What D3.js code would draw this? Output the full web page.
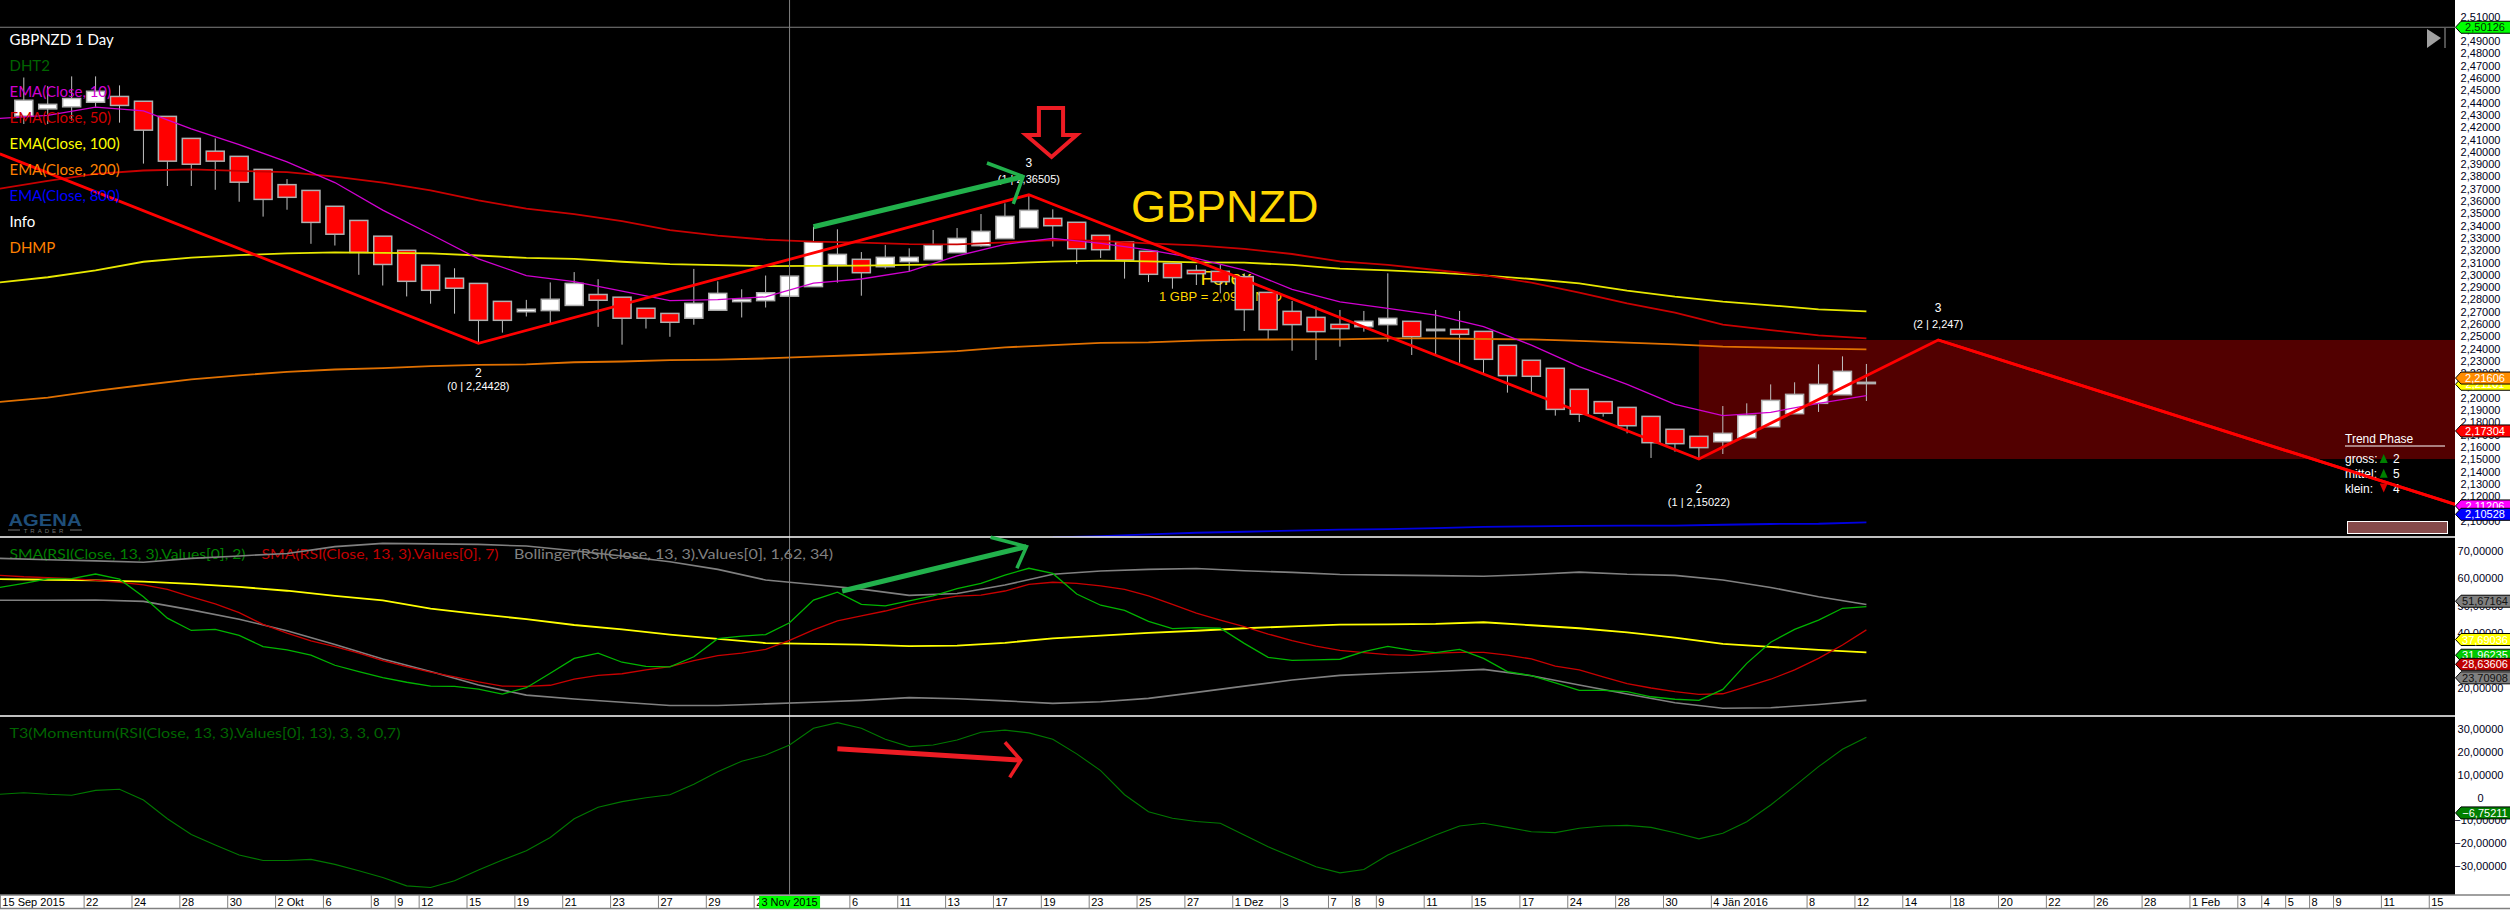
<!doctype html>
<html lang="en">
    <head>
        <meta charset="utf-8">
        <title>GBPNZD 1 Day</title>
        <script type="text/javascript" src="https://cdnjs.cloudflare.com/ajax/libs/d3/7.8.5/d3.min.js"></script>
        <style>
            body { margin: 0; background: #000; }
            svg { display: block; }
            text { font-family: "Liberation Sans", Arial, sans-serif; }
            .legend text { font-family: "Lato", sans-serif; }
        </style>
    </head>

    <body>
        <div id="chart"></div>
        <script>
            // candles, one per bar, slot 0 is the first bar
            var opens = [2.4291,2.4349,2.4366,2.4403,2.4450,2.4411,2.4288,2.4109,2.4005,2.3963,2.3857,2.3733,2.3686,2.3557,2.3442,2.3314,2.3199,2.3078,2.2972,2.2930,2.2784,2.2700,2.2709,2.2751,2.2840,2.2818,2.2728,2.2686,2.2647,2.2712,2.2782,2.2790,2.2826,2.2904,2.3080,2.3126,2.3066,2.3107,2.3123,2.3180,2.3237,2.3294,2.3383,2.3459,2.3427,2.3321,2.3267,2.3191,2.3093,2.3036,2.3028,2.2985,2.2857,2.2703,2.2654,2.2597,2.2578,2.2595,2.2622,2.2546,2.2557,2.2540,2.2427,2.2305,2.2240,2.2069,2.1969,2.1922,2.1849,2.1744,2.1687,2.1643,2.1676,2.1765,2.1871,2.1955,2.2025,2.2115];
            var highs = [2.4604,2.4534,2.4613,2.4613,2.4540,2.4411,2.4288,2.4109,2.4109,2.3963,2.3857,2.3778,2.3686,2.3557,2.3442,2.3314,2.3199,2.3078,2.3053,2.2930,2.2784,2.2796,2.2938,2.3022,2.2964,2.2818,2.2728,2.2686,2.3048,2.2947,2.2882,2.2994,2.2994,2.3391,2.3370,2.3185,2.3242,2.3215,2.3364,2.3380,2.3494,2.3581,2.36505,2.3532,2.3427,2.3321,2.3267,2.3191,2.3093,2.3080,2.3080,2.3012,2.2857,2.2787,2.2741,2.2714,2.2706,2.3012,2.2622,2.2714,2.2706,2.2540,2.2427,2.2305,2.2240,2.2069,2.1969,2.1922,2.1849,2.1744,2.1687,2.1933,2.1955,2.2109,2.2126,2.2272,2.2337,2.2275];
            var lows = [2.4226,2.4226,2.4254,2.4366,2.4237,2.3904,2.3722,2.3722,2.3691,2.3594,2.3473,2.3529,2.3252,2.3238,2.3000,2.2913,2.2824,2.2765,2.2684,2.2443,2.2530,2.2661,2.2608,2.2751,2.2577,2.2432,2.2563,2.2496,2.2594,2.2712,2.2653,2.2734,2.2826,2.2904,2.2936,2.2830,2.3050,2.3028,2.3123,2.3180,2.3229,2.3294,2.3383,2.3229,2.3088,2.3137,2.2969,2.2941,2.2887,2.2917,2.2849,2.2543,2.2475,2.2383,2.2307,2.2416,2.2538,2.2456,2.2348,2.2348,2.2286,2.2185,2.2042,2.2036,2.1855,2.1803,2.1847,2.1711,2.1511,2.1562,2.15022,2.1543,2.1676,2.1765,2.1871,2.1885,2.2025,2.1974];
            var closes = [2.4419,2.4386,2.4433,2.4492,2.4377,2.4176,2.3924,2.3899,2.3924,2.3753,2.3613,2.3630,2.3426,2.3330,2.3182,2.3084,2.2947,2.2874,2.2891,2.2630,2.2630,2.2720,2.2801,2.2930,2.2793,2.2647,2.2647,2.2614,2.2768,2.2849,2.2801,2.2854,2.2989,2.3267,2.3166,2.3017,2.3142,2.3142,2.3240,2.3296,2.3353,2.3475,2.3524,2.3399,2.3212,2.3204,2.3120,2.3004,2.2977,2.3009,2.2944,2.2717,2.2554,2.2595,2.2538,2.2562,2.2622,2.2646,2.2497,2.2557,2.2516,2.2313,2.2180,2.2175,2.1906,2.1866,2.1874,2.1773,2.1635,2.1627,2.1595,2.1711,2.1857,2.1979,2.2028,2.2109,2.2215,2.2126];

            // moving averages, read at every second slot from -1 to 77
            var oddSlots = d3.range(-1, 78, 2);
            var ema10 = [2.4271,2.4296,2.4363,2.4333,2.4187,2.4058,2.3918,2.3750,2.3526,2.3330,2.3129,2.2994,2.2944,2.2868,2.2790,2.2798,2.2821,2.2933,2.2966,2.3028,2.3153,2.3248,2.3296,2.3256,2.3202,2.3134,2.3039,2.2882,2.2779,2.2727,2.2673,2.2578,2.2429,2.2253,2.2109,2.1947,2.1855,2.1882,2.1955,2.2017];
            var ema50 = [2.3700,2.3764,2.3820,2.3848,2.3857,2.3845,2.3834,2.3798,2.3750,2.3686,2.3605,2.3538,2.3493,2.3437,2.3364,2.3319,2.3286,2.3269,2.3261,2.3250,2.3248,2.3264,2.3283,2.3275,2.3256,2.3240,2.3210,2.3169,2.3109,2.3080,2.3039,2.2998,2.2936,2.2855,2.2768,2.2692,2.2595,2.2551,2.2508,2.2483];
            var ema100 = [2.2938,2.2980,2.3036,2.3106,2.3140,2.3160,2.3174,2.3182,2.3179,2.3174,2.3157,2.3137,2.3129,2.3106,2.3087,2.3078,2.3070,2.3073,2.3074,2.3080,2.3085,2.3093,2.3107,2.3115,2.3109,2.3101,2.3099,2.3080,2.3050,2.3036,2.3017,2.2996,2.2966,2.2931,2.2871,2.2822,2.2782,2.2752,2.2719,2.2703];
            var ema200 = [2.1967,2.2001,2.2057,2.2104,2.2149,2.2183,2.2211,2.2230,2.2241,2.2258,2.2267,2.2272,2.2289,2.2295,2.2306,2.2311,2.2320,2.2334,2.2348,2.2362,2.2380,2.2410,2.2429,2.2446,2.2451,2.2465,2.2473,2.2475,2.2475,2.2483,2.2483,2.2478,2.2475,2.2462,2.2448,2.2435,2.2416,2.2408,2.2399,2.2394];
            var ema800Slots = d3.range(43, 78, 2);
            var ema800 = [2.0866,2.0876,2.0890,2.0903,2.0911,2.0920,2.0928,2.0933,2.0941,2.0950,2.0955,2.0958,2.0960,2.0960,2.0968,2.0974,2.0976,2.0988];

            // zigzag
            var zigSlots = [-1, 19, 42, 70, 80, 101.6];
            var zigPrices = [2.3983, 2.24428, 2.36505, 2.15022, 2.247, 2.1134];
            var zigLabels = [
                {slot: 19, price: 2.24428, top: "2", sub: "(0 | 2,24428)", above: false},
                {slot: 42, price: 2.36505, top: "3", sub: "(1 | 2,36505)", above: true},
                {slot: 70, price: 2.15022, top: "2", sub: "(1 | 2,15022)", above: false},
                {slot: 80, price: 2.247, top: "3", sub: "(2 | 2,247)", above: true}
            ];

            // rsi panel, one value per slot from -1 to 77
            var allSlots = d3.range(-1, 78);
            var rsiSma2 = [56.7,58.2,59.8,59.9,61.6,59.7,53.3,45.5,41.0,41.4,39.2,35.1,33.9,32.0,28.3,26.0,23.8,22.1,20.7,20.6,19.6,17.8,20.1,25.4,30.8,32.7,29.4,27.9,27.7,31.4,38.0,38.9,39.5,43.8,52.1,55.0,50.5,50.0,51.8,53.6,56.3,58.2,61.2,63.7,61.8,54.3,50.2,48.3,44.3,41.7,42.0,41.8,36.3,31.2,30.1,30.3,30.5,33.3,35.2,33.7,32.9,34.1,30.8,26.0,24.5,21.9,19.1,19.1,18.7,16.8,15.9,15.5,19.5,29.0,36.7,41.4,44.8,49.1,49.7];
            var rsiSma7 = [61.1,60.6,60.3,59.9,59.3,58.6,57.6,56.0,53.3,50.7,47.5,43.2,40.0,37.2,35.1,32.7,30.0,27.8,25.8,24.1,22.2,20.7,20.6,21.0,23.2,24.6,25.2,26.6,27.8,30.0,31.8,32.7,34.1,37.4,41.2,44.5,46.3,48.1,50.3,52.1,53.5,53.9,55.4,57.8,58.6,58.2,57.3,56.0,53.6,50.5,47.3,44.8,42.4,39.7,37.3,35.3,33.7,32.9,32.2,31.9,32.7,33.0,33.0,32.0,30.6,28.0,26.6,24.1,21.6,20.0,18.7,17.7,17.9,20.5,23.2,26.6,30.8,35.7,41.2];
            var bbMiddle = [59.7,59.5,59.3,58.8,58.0,56.9,55.5,53.6,52.0,49.0,47.0,45.1,43.0,41.4,39.5,37.9,36.4,36.1,35.8,35.3,35.5,36.5,38.1,39.1,40.1,40.9,41.8,42.5,43.1,43.2,43.4,44.0,42.9,41.8,40.3,38.4,36.1,35.0,33.9,33.0];
            var bbUpper = [67.3,66.8,66.4,65.9,67.3,68.2,69.1,71.6,72.8,72.6,72.4,71.8,70.1,68.2,66.1,63.3,59.4,57.8,56.1,53.8,54.5,57.6,61.5,62.7,63.3,63.6,62.8,62.2,61.4,61.2,61.0,60.8,61.4,62.3,61.5,61.1,59.4,56.7,53.3,50.5];
            var bbLower = [52.0,52.0,52.1,51.6,48.5,45.1,40.9,35.9,30.6,26.0,21.1,17.4,16.0,14.8,13.6,13.6,14.2,14.8,15.5,16.5,16.1,15.3,14.4,15.0,16.2,18.4,20.7,22.9,24.6,25.4,26.0,26.8,24.5,21.1,17.8,14.6,12.6,12.8,14.0,15.5];

            // momentum panel
            var t3Momentum = [1.4,2.1,1.4,1.0,3.1,3.6,-1.1,-9.3,-16.2,-20.8,-25.2,-27.6,-27.6,-27.1,-29.3,-32.1,-35.0,-38.7,-39.4,-36.5,-31.8,-27.4,-23.3,-17.5,-9.3,-4.3,-1.8,-0.1,1.2,5.8,11.3,15.9,18.6,23.0,30.3,32.8,30.3,25.5,22.3,23.0,25.2,28.6,29.5,28.3,25.5,19.1,11.8,1.2,-6.2,-9.1,-10.5,-11.3,-16.4,-21.6,-25.9,-30.3,-33.0,-31.5,-25.2,-20.8,-16.4,-12.5,-11.3,-13.1,-15.0,-15.4,-13.5,-12.5,-12.2,-13.1,-15.4,-18.1,-15.7,-10.6,-3.3,5.0,13.5,21.1,26.4];

            // axis ticks
            var priceTicks = d3.range(210, 252).map(function (d) { return d / 100; });
            var rsiTicks = [70, 60, 50, 40, 30, 20];
            var momTicks = [30, 20, 10, 0, -10, -20, -30];
            var timeSlots = [-0.5,3,5,7,9,11,13,15,16,17,19,21,23,25,27,29,31,35,37,39,41,43,45,47,49,51,53,55,56,57,59,61,63,65,67,69,71,75,77,79,81,83,85,87,89,91,93,94,95,96,97,99,101];
            var timeLabels = ["15 Sep 2015","22","24","28","30","2 Okt","6","8","9","12","15","19","21","23","27","29","2","6","11","13","17","19","23","25","27","1 Dez","3","7","8","9","11","15","17","24","28","30","4 Jän 2016","8","12","14","18","20","22","26","28","1 Feb","3","4","5","8","9","11","15"];
            var crossSlot = 32, crossLabel = "3 Nov 2015";

            // last value markers
            var priceTags = [
                {v: 2.50126, fill: "#00ff00", text: "#003000"},
                {v: 2.21101, fill: "#ffff00", text: "#ffffff"},
                {v: 2.21606, fill: "#ff8c00", text: "#ffffff"},
                {v: 2.17304, fill: "#ff0000", text: "#ffffff"},
                {v: 2.11206, fill: "#ff00ff", text: "#ffffff"},
                {v: 2.10528, fill: "#0000ff", text: "#ffffff"}
            ];
            var rsiTags = [
                {v: 51.67164, fill: "#808080", text: "#111111"},
                {v: 37.69036, fill: "#ffff00", text: "#ffffff"},
                {v: 31.96235, fill: "#00c800", text: "#ffffff"},
                {v: 28.63606, fill: "#c00000", text: "#ffffff"},
                {v: 23.70908, fill: "#808080", text: "#111111"}
            ];
            var momTags = [{v: -6.75211, fill: "#008000", text: "#ffffff"}];

            var priceLegend = ["GBPNZD 1 Day", "DHT2", "EMA(Close, 10)", "EMA(Close, 50)", "EMA(Close, 100)", "EMA(Close, 200)", "EMA(Close, 800)", "Info", "DHMP"];
            var priceLegendColors = ["#ffffff", "#006400", "#d000d0", "#d00000", "#ffff00", "#ff8000", "#0000ff", "#ffffff", "#ff8000"];

            // hand drawn arrows, [slot, value]
            var greenArrow1 = [[33.0, 2.3391], [41.76, 2.3798]];
            var greenHead1 = [[40.25, 2.3909], [41.76, 2.3798], [41.35, 2.3576]];
            var greenArrow2 = [[34.2, 55.4], [41.9, 71.6]];
            var greenHead2 = [[40.4, 75.0], [41.9, 71.6], [41.5, 63.7]];
            var redArrow = [[34.0, 21.3], [41.66, 16.4]];
            var redHead = [[41.0, 24.2], [41.66, 16.4], [41.2, 8.8]];
            var sellArrow = [[42.42, 2.4356], [43.43, 2.4356], [43.43, 2.4137], [44.0, 2.4137], [42.95, 2.3958], [41.88, 2.4137], [42.42, 2.4137]];

            var width = 2510, height = 910, plotRight = 2455;
            var panel1Bottom = 537, panel2Bottom = 716, panel3Bottom = 895;

            var x = d3.scaleLinear().domain([0, 77]).range([23.8, 1866.4]);
            var yPrice = d3.scaleLinear().domain([2.51, 2.10]).range([16.5, 520.8]);
            var yRsi = d3.scaleLinear().domain([70, 20]).range([551, 688]);
            var yMom = d3.scaleLinear().domain([30, -30]).range([729, 866]);

            var comma = d3.formatLocale({decimal: ",", thousands: ".", grouping: [3], currency: ["", ""]});
            var fmt5 = comma.format(".5f");
            var fmtPanel = function (d) { return d === 0 ? "0" : fmt5(d); };

            var svg = d3.select("#chart").append("svg").attr("width", width).attr("height", height);
            svg.append("rect").attr("width", width).attr("height", height).attr("fill", "#000");

            var defs = svg.append("defs");
            defs.append("clipPath").attr("id", "clip1").append("rect").attr("width", plotRight).attr("height", panel1Bottom);

            var main = svg.append("g").attr("clip-path", "url(#clip1)");

            // target zone behind the candles
            main.append("rect")
                .attr("x", x(70)).attr("y", yPrice(2.247))
                .attr("width", plotRight - x(70)).attr("height", yPrice(2.15022) - yPrice(2.247))
                .attr("fill", "#520000");

            // legend
            var legend = svg.append("g").attr("class", "legend");
            legend.selectAll("text.p").data(priceLegend).enter().append("text").attr("class", "p")
                .attr("x", 9.5).attr("y", function (d, i) { return 45 + i * 26; })
                .attr("font-size", 15)
                .attr("fill", function (d, i) { return priceLegendColors[i]; })
                .text(function (d) { return d; });
            legend.append("text").attr("x", 9.5).attr("y", 559).attr("font-size", 14).attr("fill", "#008000").attr("textLength", 236).attr("lengthAdjust", "spacingAndGlyphs").text("SMA(RSI(Close, 13, 3).Values[0], 2)");
            legend.append("text").attr("x", 261.5).attr("y", 559).attr("font-size", 14).attr("fill", "#c00000").attr("textLength", 237).attr("lengthAdjust", "spacingAndGlyphs").text("SMA(RSI(Close, 13, 3).Values[0], 7)");
            legend.append("text").attr("x", 514).attr("y", 559).attr("font-size", 14).attr("fill", "#808080").attr("textLength", 319).attr("lengthAdjust", "spacingAndGlyphs").text("Bollinger(RSI(Close, 13, 3).Values[0], 1,62, 34)");
            legend.append("text").attr("x", 9.5).attr("y", 738).attr("font-size", 14).attr("fill", "#006400").attr("textLength", 391).attr("lengthAdjust", "spacingAndGlyphs").text("T3(Momentum(RSI(Close, 13, 3).Values[0], 13), 3, 3, 0,7)");

            // titles that sit behind the candles
            main.append("text").attr("x", 1131).attr("y", 222).attr("font-size", 45).attr("fill", "#ffd700").text("GBPNZD");
            main.append("text").attr("x", 1226).attr("y", 285).attr("text-anchor", "middle").attr("font-size", 20).attr("fill", "#ffd700").text("Forex");
            main.append("text").attr("x", 1159).attr("y", 301).attr("font-size", 13).attr("fill", "#ffd700").text("1 GBP = 2,0950 NZD");

            // candles
            var bars = opens.map(function (o, i) { return {slot: i, o: o, h: highs[i], l: lows[i], c: closes[i]}; });
            var candle = main.selectAll("g.candle").data(bars).enter().append("g").attr("class", "candle");
            candle.append("line")
                .attr("x1", function (d) { return x(d.slot); }).attr("x2", function (d) { return x(d.slot); })
                .attr("y1", function (d) { return yPrice(d.h); }).attr("y2", function (d) { return yPrice(d.l); })
                .attr("stroke", "#c0c0c0").attr("stroke-width", 1);
            candle.append("rect")
                .attr("x", function (d) { return x(d.slot) - 9; }).attr("width", 18)
                .attr("y", function (d) { return yPrice(Math.max(d.o, d.c)); })
                .attr("height", function (d) { return Math.max(1, Math.abs(yPrice(d.o) - yPrice(d.c))); })
                .attr("fill", function (d) { return d.c >= d.o ? "#ffffff" : "#ff0000"; })
                .attr("stroke", "#b0b0b0").attr("stroke-width", 1.5);

            function drawLine(parent, slots, values, y, color, w) {
                var line = d3.line().x(function (d) { return x(d[0]); }).y(function (d) { return y(d[1]); });
                parent.append("path")
                    .attr("d", line(slots.map(function (s, i) { return [s, values[i]]; })))
                    .attr("fill", "none").attr("stroke", color).attr("stroke-width", w);
            }

            drawLine(main, ema800Slots, ema800, yPrice, "#0000e0", 1.8);
            drawLine(main, oddSlots, ema200, yPrice, "#e07000", 1.8);
            drawLine(main, oddSlots, ema100, yPrice, "#e8e800", 1.8);
            drawLine(main, oddSlots, ema50, yPrice, "#c80000", 1.8);
            drawLine(main, oddSlots, ema10, yPrice, "#d000d0", 1.3);
            drawLine(main, zigSlots, zigPrices, yPrice, "#ff0000", 2.8);

            // zigzag labels
            var zl = main.selectAll("g.zl").data(zigLabels).enter().append("g").attr("class", "zl").attr("fill", "#ffffff").attr("text-anchor", "middle");
            zl.append("text").attr("x", function (d) { return x(d.slot); })
                .attr("y", function (d) { return yPrice(d.price) + (d.above ? -28 : 34); })
                .attr("font-size", 12).text(function (d) { return d.top; });
            zl.append("text").attr("x", function (d) { return x(d.slot); })
                .attr("y", function (d) { return yPrice(d.price) + (d.above ? -12 : 47); })
                .attr("font-size", 11).text(function (d) { return d.sub; });

            // crosshair
            svg.append("line").attr("x1", 0).attr("x2", plotRight).attr("y1", yPrice(2.50126)).attr("y2", yPrice(2.50126)).attr("stroke", "#808080").attr("stroke-width", 1);
            svg.append("line").attr("x1", x(crossSlot)).attr("x2", x(crossSlot)).attr("y1", 0).attr("y2", panel3Bottom).attr("stroke", "#808080").attr("stroke-width", 1);

            // rsi panel
            drawLine(svg, oddSlots, bbUpper, yRsi, "#808080", 1.6);
            drawLine(svg, oddSlots, bbLower, yRsi, "#808080", 1.6);
            drawLine(svg, oddSlots, bbMiddle, yRsi, "#ffff00", 1.8);
            drawLine(svg, allSlots, rsiSma7, yRsi, "#c80000", 1.3);
            drawLine(svg, allSlots, rsiSma2, yRsi, "#00b400", 1.3);

            // momentum panel
            drawLine(svg, allSlots, t3Momentum, yMom, "#007800", 1.1);

            // panel separators
            [panel1Bottom, panel2Bottom].forEach(function (py) {
                svg.append("line").attr("x1", 0).attr("x2", width).attr("y1", py).attr("y2", py).attr("stroke", "#ffffff").attr("stroke-width", 1.5);
            });

            // logo
            var logo = svg.append("g");
            logo.append("text").attr("x", 45).attr("y", 526).attr("text-anchor", "middle").attr("font-size", 17).attr("font-weight", "bold").attr("fill", "#1f4e79").attr("textLength", 73).attr("lengthAdjust", "spacingAndGlyphs").text("AGENA");
            logo.append("text").attr("x", 45).attr("y", 533).attr("text-anchor", "middle").attr("font-size", 6).attr("fill", "#707070").attr("letter-spacing", 3).text("TRADER");
            logo.append("line").attr("x1", 8).attr("x2", 20).attr("y1", 530).attr("y2", 530).attr("stroke", "#707070");
            logo.append("line").attr("x1", 70).attr("x2", 82).attr("y1", 530).attr("y2", 530).attr("stroke", "#707070");

            // top right scroll mark
            svg.append("path").attr("d", "M2427,29L2441,38L2427,48Z").attr("fill", "#a0a0a0");
            svg.append("line").attr("x1", 2445).attr("x2", 2445).attr("y1", 28).attr("y2", 48).attr("stroke", "#a0a0a0");

            // trend phase box
            var tp = svg.append("g").attr("fill", "#ffffff").attr("font-size", 12);
            tp.append("text").attr("x", 2345).attr("y", 443).text("Trend Phase");
            tp.append("line").attr("x1", 2345).attr("x2", 2445).attr("y1", 446).attr("y2", 446).attr("stroke", "#ffffff");
            var phaseNames = ["gross:", "mittel:", "klein:"], phaseNums = ["2", "5", "4"], phaseUp = [true, true, false];
            phaseNames.forEach(function (n, i) {
                var ty = 463 + i * 14.8;
                tp.append("text").attr("x", 2345).attr("y", ty).text(n);
                tp.append("text").attr("x", 2393).attr("y", ty).text(phaseNums[i]);
                tp.append("path")
                    .attr("d", phaseUp[i] ? "M2383.7," + (ty - 9) + "l4,9h-8z" : "M2383.7," + ty + "l4,-9h-8z")
                    .attr("fill", phaseUp[i] ? "#008000" : "#e00000");
            });
            svg.append("rect").attr("x", 2347.5).attr("y", 521.5).attr("width", 100).attr("height", 12).attr("fill", "#854a4a").attr("stroke", "#ffffff");
            drawLine(svg, zigSlots.slice(4), zigPrices.slice(4), yPrice, "#ff0000", 2.8);

            // hand drawn arrows over everything
            function drawArrow(shaft, head, y, color) {
                var line = d3.line().x(function (d) { return x(d[0]); }).y(function (d) { return y(d[1]); });
                svg.append("path").attr("d", line(shaft)).attr("fill", "none").attr("stroke", color).attr("stroke-width", 5);
                svg.append("path").attr("d", line(head)).attr("fill", "none").attr("stroke", color).attr("stroke-width", 3.5);
            }
            drawArrow(greenArrow1, greenHead1, yPrice, "#22b14c");
            drawArrow(greenArrow2, greenHead2, yRsi, "#22b14c");
            drawArrow(redArrow, redHead, yMom, "#ed1c24");
            svg.append("path")
                .attr("d", d3.line().x(function (d) { return x(d[0]); }).y(function (d) { return yPrice(d[1]); }).curve(d3.curveLinearClosed)(sellArrow))
                .attr("fill", "none").attr("stroke", "#ed1c24").attr("stroke-width", 4);

            // right axis
            svg.append("rect").attr("x", plotRight).attr("y", 0).attr("width", width - plotRight).attr("height", panel3Bottom).attr("fill", "#ffffff");

            function drawAxis(scale, ticks, format) {
                var g = svg.append("g").attr("transform", "translate(" + plotRight + ",0)")
                    .call(d3.axisRight(scale).tickValues(ticks).tickFormat(format).tickSize(0));
                g.select(".domain").remove();
                g.selectAll("text").attr("x", 25.5).attr("text-anchor", "middle").attr("font-size", 11)
                    .attr("font-family", "Liberation Sans").attr("fill", "#000020");
            }
            drawAxis(yPrice, priceTicks, fmt5);
            drawAxis(yRsi, rsiTicks, fmtPanel);
            drawAxis(yMom, momTicks, fmtPanel);

            function drawTags(tags, y) {
                var tag = svg.selectAll(null).data(tags).enter().append("g")
                    .attr("transform", function (d) { return "translate(" + plotRight + "," + y(d.v) + ")"; });
                tag.append("path").attr("d", "M0.5,0L6,-6H56V6H6Z")
                    .attr("fill", function (d) { return d.fill; }).attr("stroke", "#000000").attr("stroke-width", 1);
                tag.append("text").attr("x", 30).attr("y", 4).attr("text-anchor", "middle").attr("font-size", 11)
                    .attr("fill", function (d) { return d.text; })
                    .text(function (d) { return fmt5(d.v); });
            }
            drawTags(priceTags, yPrice);
            drawTags(rsiTags, yRsi);
            drawTags(momTags, yMom);

            // time axis
            svg.append("rect").attr("x", 0).attr("y", panel3Bottom).attr("width", width).attr("height", height - panel3Bottom).attr("fill", "#ffffff");
            var xAxis = d3.axisBottom(x)
                .tickValues(timeSlots.map(function (s) { return s - 0.5; }))
                .tickFormat(function (d, i) { return timeLabels[i]; })
                .tickSize(13);
            var gx = svg.append("g").attr("transform", "translate(0," + panel3Bottom + ")").call(xAxis);
            gx.select(".domain").remove();
            gx.selectAll("line").attr("stroke", "#808080");
            gx.selectAll("text").attr("x", 2).attr("y", 11).attr("dy", 0).attr("text-anchor", "start").attr("font-size", 11)
                .attr("font-family", "Liberation Sans").attr("fill", "#000000");
            svg.append("line").attr("x1", 0).attr("x2", width).attr("y1", panel3Bottom).attr("y2", panel3Bottom).attr("stroke", "#808080").attr("stroke-width", 1.5);
            svg.append("line").attr("x1", 0).attr("x2", width).attr("y1", 908.5).attr("y2", 908.5).attr("stroke", "#808080").attr("stroke-width", 1.5);
            svg.append("rect").attr("x", x(crossSlot) - 30.5).attr("y", panel3Bottom + 1).attr("width", 61).attr("height", 12.5).attr("fill", "#00ff00");
            svg.append("text").attr("x", x(crossSlot)).attr("y", 906).attr("text-anchor", "middle").attr("font-size", 11).attr("fill", "#000").text(crossLabel);
        </script>
    </body>
</html>
